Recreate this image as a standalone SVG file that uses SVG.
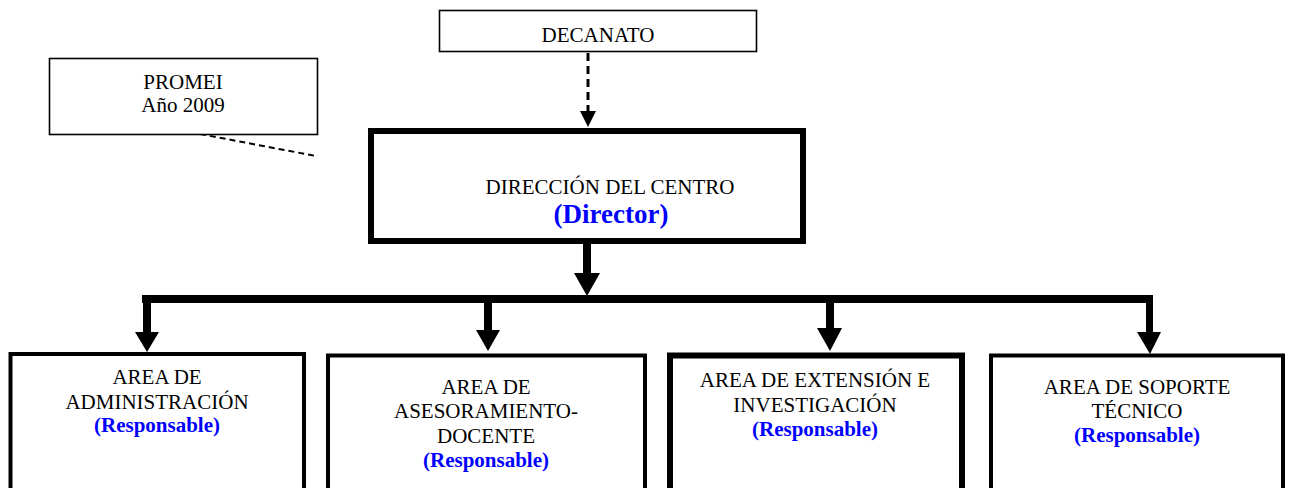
<svg xmlns="http://www.w3.org/2000/svg" width="1290" height="488" viewBox="0 0 1290 488">
<style>
.t{font-family:"Liberation Serif","Times New Roman",serif;font-size:21px;fill:#000;text-anchor:middle}
.b{font-family:"Liberation Serif","Times New Roman",serif;font-size:21px;font-weight:bold;fill:#0000ff;text-anchor:middle}
.thin{fill:#fff;stroke:#000;stroke-width:1.6}
.mid{fill:#fff;stroke:#000;stroke-width:4}
.thick{fill:#fff;stroke:#000;stroke-width:6}
</style>
<rect width="1290" height="488" fill="#fff"/>
<g id="connectors">
  <line x1="588" y1="53" x2="588" y2="112" stroke="#000" stroke-width="3" stroke-dasharray="8,5"/>
  <polygon points="580,111 596,111 588,127" fill="#000"/>
  <line x1="200" y1="134" x2="316" y2="156" stroke="#000" stroke-width="2" stroke-dasharray="6,4"/>
  <rect x="583" y="243" width="8" height="31" fill="#000"/>
  <polygon points="574,273 600,273 587,296" fill="#000"/>
  <rect x="142" y="295" width="1011" height="8" fill="#000"/>
  <rect x="143" y="302" width="8" height="31" fill="#000"/>
  <polygon points="135,332 159,332 147,352" fill="#000"/>
  <rect x="484" y="302" width="8" height="29" fill="#000"/>
  <polygon points="476,330 500,330 488,351" fill="#000"/>
  <rect x="826" y="302" width="8" height="27" fill="#000"/>
  <polygon points="817,328 842,328 830,351" fill="#000"/>
  <rect x="1146" y="302" width="7" height="31" fill="#000"/>
  <polygon points="1137,332 1161,332 1150,354" fill="#000"/>
</g>
<g id="decanato">
  <rect class="thin" x="439.5" y="10.5" width="317" height="41"/>
  <text class="t" x="598" y="42">DECANATO</text>
</g>
<g id="promei">
  <rect class="thin" x="49.5" y="58.5" width="268" height="76"/>
  <text class="t" x="183" y="89">PROMEI</text>
  <text class="t" x="183" y="112">Año 2009</text>
</g>
<g id="direccion">
  <rect class="thick" x="371" y="131" width="432" height="110"/>
  <text class="t" x="610" y="194">DIRECCIÓN DEL CENTRO</text>
  <text class="b" x="611" y="223" style="font-size:27px">(Director)</text>
</g>
<g id="area-administracion">
  <rect class="mid" x="10.5" y="354" width="293.5" height="160"/>
  <text class="t" x="157" y="384">AREA DE</text>
  <text class="t" x="157" y="409">ADMINISTRACIÓN</text>
  <text class="b" x="157" y="432">(Responsable)</text>
</g>
<g id="area-asesoramiento">
  <rect class="mid" x="328" y="355.5" width="317" height="160"/>
  <text class="t" x="486" y="394">AREA DE</text>
  <text class="t" x="486" y="418">ASESORAMIENTO-</text>
  <text class="t" x="486" y="443">DOCENTE</text>
  <text class="b" x="486" y="467">(Responsable)</text>
</g>
<g id="area-extension">
  <rect class="thick" x="670" y="355.5" width="292" height="160"/>
  <text class="t" x="815" y="387">AREA DE EXTENSIÓN E</text>
  <text class="t" x="815" y="412">INVESTIGACIÓN</text>
  <text class="b" x="815" y="436">(Responsable)</text>
</g>
<g id="area-soporte">
  <rect class="mid" x="991" y="355.5" width="292" height="160"/>
  <text class="t" x="1137" y="394">AREA DE SOPORTE</text>
  <text class="t" x="1137" y="418">TÉCNICO</text>
  <text class="b" x="1137" y="442">(Responsable)</text>
</g>
</svg>
